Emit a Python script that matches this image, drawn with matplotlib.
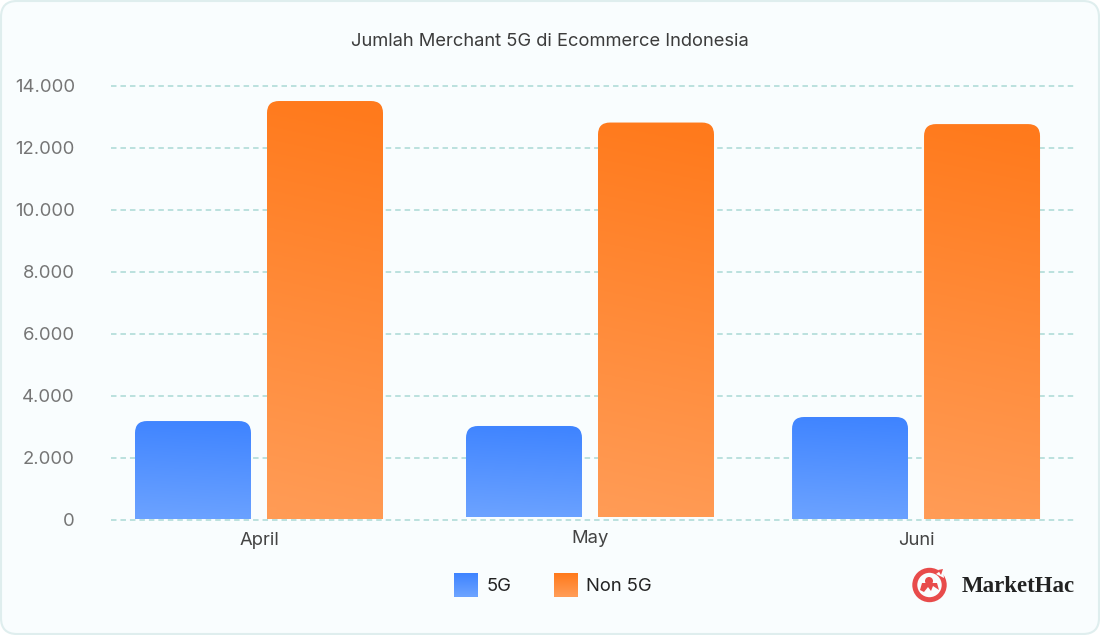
import numpy as np
import matplotlib
matplotlib.use('Agg')
import matplotlib.pyplot as plt
from matplotlib.legend_handler import HandlerBase
from matplotlib.patches import Circle, FancyBboxPatch, PathPatch, Polygon, Patch, Rectangle
from matplotlib.path import Path
from matplotlib.ticker import FuncFormatter
from matplotlib.transforms import ScaledTranslation

plt.rcParams['font.family'] = ['Inter', 'DejaVu Sans']

months = ["April", "May", "Juni"]
values_5g = [3180, 3020, 3310]
values_non5g = [13515, 12820, 12770]
series_names = ["5G", "Non 5G"]
y_ticks = [0, 2000, 4000, 6000, 8000, 10000, 12000, 14000]
title = "Jumlah Merchant 5G di Ecommerce Indonesia"

# layout, in pixels of the 1100x635 picture
W, H = 1100, 635
PLOT_L, PLOT_R, PLOT_T, PLOT_B = 111, 1075, 86, 519.5
GROUP_PX = 331
group_x = [0, 1, 1.985]
group_base = [0, 80, 0]  # May's bars sit a little above the axis
bar_w = 116 / GROUP_PX
bar_gap = 16 / GROUP_PX
RADIUS_PX = 12

BLUE = ((63, 132, 255), (107, 162, 255))
ORANGE = ((255, 122, 28), (255, 155, 85))


def blend(pair, t):
    top, bottom = np.array(pair[0]) / 255, np.array(pair[1]) / 255
    return top + (bottom - top) * t


def rounded_bar(ax, left, width, base, top, colors, rx, ry):
    """Bar with rounded top corners, filled with a slightly tilted gradient."""
    right = left + width
    verts = [(left, base), (left, top - ry), (left, top), (left + rx, top),
             (right - rx, top), (right, top), (right, top - ry), (right, base), (left, base)]
    codes = [Path.MOVETO, Path.LINETO, Path.CURVE3, Path.CURVE3,
             Path.LINETO, Path.CURVE3, Path.CURVE3, Path.LINETO, Path.CLOSEPOLY]
    shape = PathPatch(Path(verts, codes), fc="none", ec="none", transform=ax.transData)
    ax.add_patch(shape)
    yy, xx = np.mgrid[0:1:200j, 0:1:40j]
    t = np.clip(yy + 0.06 * (0.5 - xx), 0, 1)
    grad = blend(colors, t[..., None])
    img = ax.imshow(grad, extent=(left, right, base, top), origin="upper",
                    aspect="auto", zorder=2)
    img.set_clip_path(shape)


class GradientHandler(HandlerBase):
    # stack of thin strips so the legend swatch carries the same gradient
    def __init__(self, colors):
        super().__init__()
        self.colors = colors

    def create_artists(self, legend, orig_handle, xdescent, ydescent, width, height, fontsize, trans):
        n = 24
        strips = []
        for i in range(n):
            strips.append(Rectangle((-xdescent, -ydescent + height * (n - i - 1) / n), width, height / n + 0.2,
                                    fc=blend(self.colors, i / (n - 1)), ec="none", transform=trans))
        return strips


fig = plt.figure(figsize=(W / 100, H / 100), dpi=100, facecolor="white")

# card background and logo live on a pixel-sized overlay
bg = fig.add_axes([0, 0, 1, 1], zorder=0)
bg.set_xlim(0, W)
bg.set_ylim(H, 0)
bg.axis("off")
bg.add_patch(FancyBboxPatch((1, 1), W - 2, H - 2, boxstyle="round,pad=0,rounding_size=16",
                            fc="#f9fdfe", ec="#dfeeee", lw=1.5))

ax = fig.add_axes([PLOT_L / W, 1 - PLOT_B / H, (PLOT_R - PLOT_L) / W, (PLOT_B - PLOT_T) / H], zorder=1)
ax.patch.set_visible(False)
for s in ax.spines.values():
    s.set_visible(False)

y_per_px = 14000 / (PLOT_B - PLOT_T)
rx = RADIUS_PX / GROUP_PX
ry = RADIUS_PX * y_per_px
for x, base, v1, v2 in zip(group_x, group_base, values_5g, values_non5g):
    rounded_bar(ax, x - bar_gap / 2 - bar_w, bar_w, base, v1, BLUE, rx, ry)
    rounded_bar(ax, x + bar_gap / 2, bar_w, base, v2, ORANGE, rx, ry)

ax.set_xlim((PLOT_L - 259) / GROUP_PX, (PLOT_R - 259) / GROUP_PX)
ax.set_ylim(0, 14000)
ax.set_yticks(y_ticks)
ax.yaxis.set_major_formatter(FuncFormatter(lambda v, _: f"{int(v):,}".replace(",", ".")))
ax.set_xticks(group_x, months)
ax.grid(axis="y", color="#aad9d5", lw=1.1, linestyle=(0, (3.6, 2.6)), zorder=0)
ax.set_axisbelow(True)
for line in ax.get_ygridlines():
    line.set_clip_on(False)
ax.tick_params(axis="y", length=0, pad=26, labelsize=13.3, labelcolor="#757575")
ax.tick_params(axis="x", length=0, pad=9, labelsize=13.3, labelcolor="#444444")
# May's label sits 2px higher, with its bars
may = ax.get_xticklabels()[1]
may.set_transform(may.get_transform() + ScaledTranslation(0, 2 / 100, fig.dpi_scale_trans))

fig.text(550 / W, 1 - 41 / H, title, ha="center", va="center", fontsize=13.25, color="#3c3c3c")

handles = [Patch(label=series_names[0]), Patch(label=series_names[1])]
fig.legend(handles=handles, handler_map={handles[0]: GradientHandler(BLUE), handles[1]: GradientHandler(ORANGE)},
           loc="center", bbox_to_anchor=(553 / W, 1 - 585 / H), ncol=2, frameon=False, fontsize=13.25,
           labelcolor="#222222", handlelength=1.3, handleheight=1.55, handletextpad=0.45,
           columnspacing=2.3, borderpad=0, borderaxespad=0)

# MarketHac logo
RED = "#e84b4b"
bg.add_patch(Circle((929.5, 585), 14.7, fc="none", ec=RED, lw=3.6))
bg.add_patch(Polygon([(936, 574), (943, 569), (944, 578)], fc="#f9fdfe", ec="none"))
bg.add_patch(Polygon([(938, 570), (943, 569), (941, 575)], fc=RED, ec="none"))
bg.add_patch(Circle((929, 581), 4, fc=RED, ec="none"))
bg.add_patch(Polygon([(922, 583), (937, 583), (939, 590), (933, 586), (931, 591),
                      (928, 587), (924, 592), (920, 590)], fc=RED, ec="none"))
bg.text(962, 586, "MarketHac", ha="left", va="center", fontsize=16.5, fontweight="bold",
        family="Liberation Serif", color="#222222")

fig.savefig("out.png", dpi=100)
